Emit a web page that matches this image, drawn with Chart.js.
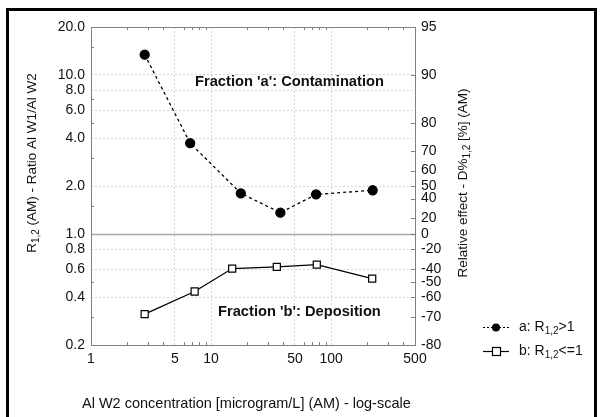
<!DOCTYPE html>
<html>
<head>
<meta charset="utf-8">
<script src="https://cdn.jsdelivr.net/npm/chart.js@4.4.1/dist/chart.umd.min.js"></script>
<style>
  html, body { margin: 0; padding: 0; background: #fff; }
  #wrap { position: relative; width: 600px; height: 417px; overflow: hidden; }
  #frame { position: absolute; left: 6px; top: 8px; width: 585px; height: 420px; border: 3px solid #000; pointer-events: none; }
  canvas { position: absolute; left: 0; top: 0; }
</style>
</head>
<body>
<div id="wrap">
  <canvas id="myChart" width="600" height="417"></canvas>
  <div id="frame"></div>
</div>
<script>
// Fraction a (contamination) and fraction b (deposition)
const concA = [2.8, 6.7, 17.7, 37.8, 75, 222];
const ratioA = [13.4, 3.72, 1.80, 1.36, 1.77, 1.88];
const concB = [2.8, 7.3, 15.0, 35.3, 76, 220];
const ratioB = [0.313, 0.434, 0.605, 0.620, 0.641, 0.523];

// Axis ticks
const xTicks = [1, 5, 10, 50, 100, 500];
const xMinor = [2, 3, 4, 6, 7, 8, 9, 20, 30, 40, 60, 70, 80, 90, 200, 300, 400];
const ratioTicks = [0.2, 0.4, 0.6, 0.8, 1, 2, 4, 6, 8, 10, 20];
const ratioMinor = [0.3, 0.5, 1.5, 3, 5, 7, 15];
const effectTicks = [95, 90, 80, 70, 60, 50, 40, 20, 0, -20, -40, -50, -60, -70, -80];

const font = "'Liberation Sans', Arial, sans-serif";

// D% -> ratio, so the right axis sits on the same log scale
function effectToRatio(d) {
  return d >= 0 ? 100 / (100 - d) : 1 + d / 100;
}

function toPoints(xs, ys) {
  return xs.map((x, i) => ({ x: x, y: ys[i] }));
}

// text with a "1,2" subscript
function richText(ctx, parts, x, y, align, size) {
  const big = size + "px " + font;
  const small = Math.round(size * 0.72) + "px " + font;
  let w = 0;
  parts.forEach((p) => {
    ctx.font = p[1] ? small : big;
    w += ctx.measureText(p[0]).width;
  });
  let cx = align === "center" ? x - w / 2 : x;
  parts.forEach((p) => {
    ctx.font = p[1] ? small : big;
    ctx.fillText(p[0], cx, p[1] ? y + 4 : y);
    cx += ctx.measureText(p[0]).width;
  });
}

function line(ctx, x1, y1, x2, y2) {
  ctx.beginPath();
  ctx.moveTo(x1, y1);
  ctx.lineTo(x2, y2);
  ctx.stroke();
}

const extras = {
  id: "extras",
  beforeDatasetsDraw(chart) {
    const { ctx, chartArea: a, scales } = chart;
    ctx.save();
    // ratio = 1 line
    const y1 = Math.round(scales.y.getPixelForValue(1)) + 0.5;
    ctx.strokeStyle = "#a8a8a8";
    ctx.lineWidth = 1.5;
    line(ctx, a.left, y1, a.right, y1);

    // plot frame
    ctx.strokeStyle = "#808080";
    ctx.lineWidth = 1;
    ctx.strokeRect(a.left + 0.5, a.top + 0.5, a.right - a.left, a.bottom - a.top);

    // minor ticks, pointing inwards
    xMinor.forEach((v) => {
      const px = Math.round(scales.x.getPixelForValue(v)) + 0.5;
      line(ctx, px, a.bottom, px, a.bottom - 3);
      line(ctx, px, a.top, px, a.top + 3);
    });
    ratioMinor.forEach((v) => {
      const py = Math.round(scales.y.getPixelForValue(v)) + 0.5;
      line(ctx, a.left, py, a.left + 3, py);
    });
    effectTicks.forEach((d) => {
      const py = Math.round(scales.y2.getPixelForValue(effectToRatio(d))) + 0.5;
      line(ctx, a.right, py, a.right - 4, py);
    });
    ctx.restore();
  },
  afterDraw(chart) {
    const { ctx } = chart;
    ctx.save();
    ctx.fillStyle = "#111";
    ctx.textBaseline = "middle";

    // annotations
    ctx.textAlign = "left";
    ctx.font = "bold 14.7px " + font;
    ctx.fillText("Fraction 'a': Contamination", 195, 82);
    ctx.fillText("Fraction 'b': Deposition", 218, 312);

    // x title
    ctx.font = "14.5px " + font;
    ctx.fillText("Al W2 concentration [microgram/L] (AM) - log-scale", 82, 404);

    // left title
    ctx.save();
    ctx.translate(32, 163);
    ctx.rotate(-Math.PI / 2);
    richText(ctx, [["R", false], ["1,2", true], [" (AM) - Ratio Al W1/Al W2", false]], 0, 0, "center", 13.5);
    ctx.restore();

    // right title
    ctx.save();
    ctx.translate(463, 183);
    ctx.rotate(-Math.PI / 2);
    richText(ctx, [["Relative effect - D%", false], ["1,2", true], [" [%] (AM)", false]], 0, 0, "center", 13.5);
    ctx.restore();

    // legend
    ctx.strokeStyle = "#000";
    ctx.lineWidth = 1.2;
    ctx.setLineDash([2, 2]);
    line(ctx, 483, 327.5, 509, 327.5);
    ctx.setLineDash([]);
    ctx.beginPath();
    ctx.arc(496, 327.5, 4, 0, Math.PI * 2);
    ctx.fillStyle = "#000";
    ctx.fill();
    line(ctx, 483, 351.5, 509, 351.5);
    ctx.fillStyle = "#fff";
    ctx.fillRect(492, 347, 9, 9);
    ctx.strokeRect(492.5, 347.5, 8, 8);
    ctx.fillStyle = "#111";
    richText(ctx, [["a: R", false], ["1,2", true], [">1", false]], 519, 327, "left", 14);
    richText(ctx, [["b: R", false], ["1,2", true], ["<=1", false]], 519, 351, "left", 14);
    ctx.restore();
  },
};

const ctx = document.getElementById("myChart");

new Chart(ctx, {
  type: "scatter",
  data: {
    datasets: [
      {
        label: "a: R1,2>1",
        data: toPoints(concA, ratioA),
        showLine: true,
        borderColor: "#000",
        borderWidth: 1.3,
        borderDash: [3, 3],
        pointStyle: "circle",
        pointRadius: 4.5,
        pointBackgroundColor: "#000",
        pointBorderColor: "#000",
        yAxisID: "y",
      },
      {
        label: "b: R1,2<=1",
        data: toPoints(concB, ratioB),
        showLine: true,
        borderColor: "#000",
        borderWidth: 1.3,
        pointStyle: "rect",
        pointRadius: 5,
        pointBackgroundColor: "#fff",
        pointBorderColor: "#000",
        pointBorderWidth: 1.2,
        yAxisID: "y",
      },
    ],
  },
  options: {
    responsive: false,
    animation: false,
    layout: { padding: { top: 27, left: 0, right: 0, bottom: 0 } },
    plugins: { legend: { display: false }, tooltip: { enabled: false } },
    scales: {
      x: {
        type: "logarithmic",
        position: "bottom",
        min: 1,
        max: 500,
        afterBuildTicks: (s) => { s.ticks = xTicks.map((v) => ({ value: v })); },
        afterFit: (s) => { s.height = 72; },
        ticks: {
          autoSkip: false,
          maxRotation: 0,
          padding: 6,
          color: "#111",
          font: { family: font, size: 14 },
          callback: (v) => String(v),
        },
        grid: {
          drawTicks: false,
          color: (c) => (c.tick && c.tick.value > 1 && c.tick.value < 500 ? "#d6d6d6" : "transparent"),
        },
        border: { display: false, dash: [2, 2] },
      },
      y: {
        type: "logarithmic",
        position: "left",
        min: 0.2,
        max: 20,
        afterBuildTicks: (s) => { s.ticks = ratioTicks.map((v) => ({ value: v })); },
        afterFit: (s) => { s.width = 91; },
        ticks: {
          autoSkip: false,
          padding: 6,
          color: "#111",
          font: { family: font, size: 14 },
          callback: (v) => v.toFixed(1),
        },
        grid: {
          drawTicks: false,
          color: (c) => {
            const v = c.tick && c.tick.value;
            return v > 0.2 && v < 20 && v !== 1 ? "#d6d6d6" : "transparent";
          },
        },
        border: { display: false, dash: [2, 2] },
      },
      y2: {
        type: "logarithmic",
        position: "right",
        min: 0.2,
        max: 20,
        afterBuildTicks: (s) => { s.ticks = effectTicks.map((d) => ({ value: effectToRatio(d) })); },
        afterFit: (s) => { s.width = 185; },
        ticks: {
          autoSkip: false,
          padding: 6,
          color: "#111",
          font: { family: font, size: 14 },
          callback: (v, i) => String(effectTicks[i]),
        },
        grid: { drawOnChartArea: false, drawTicks: false },
        border: { display: false },
      },
    },
  },
  plugins: [extras],
});
</script>
</body>
</html>
